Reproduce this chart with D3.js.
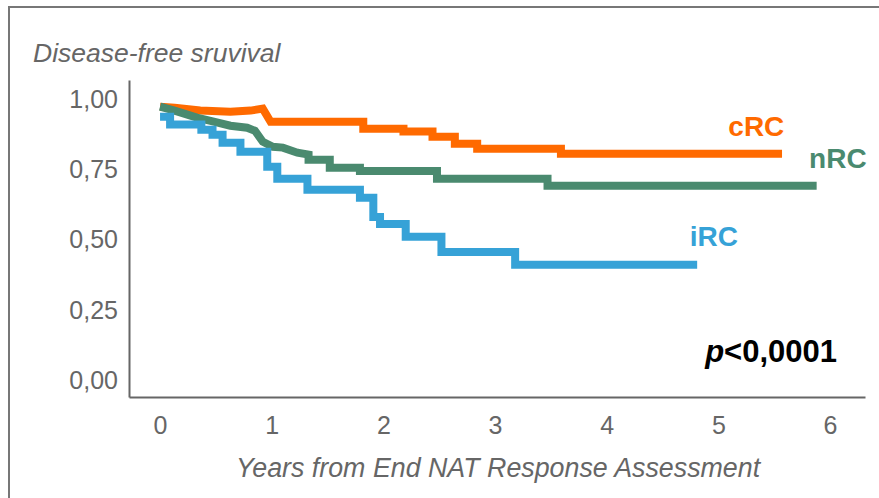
<!DOCTYPE html>
<html>
<head>
<meta charset="utf-8">
<script src="https://cdn.jsdelivr.net/npm/d3@7"></script>
<style>
  html, body { margin: 0; padding: 0; background: #fff; }
  svg { display: block; font-family: "Liberation Sans", Arial, Helvetica, sans-serif; }
</style>
</head>
<body>
<svg id="chart" width="879" height="498"></svg>
<script>
// Kaplan-Meier disease-free survival by NAT response group (years, survival fraction).
// Each series is the polyline of the curve: repeated times mark a drop.
const cRC_time = [0, 0.13, 0.36, 0.63, 0.81, 0.92, 0.99, 1.82, 1.82, 2.18, 2.18, 2.44, 2.44, 2.64, 2.64, 2.84, 2.84, 3.59, 3.59, 5.57];
const cRC_surv = [0.975, 0.971, 0.961, 0.957, 0.961, 0.968, 0.921, 0.921, 0.896, 0.896, 0.886, 0.886, 0.868, 0.868, 0.843, 0.843, 0.825, 0.825, 0.807, 0.807];

const nRC_time = [0, 0.13, 0.33, 0.49, 0.63, 0.78, 0.85, 0.92, 1.01, 1.10, 1.23, 1.33, 1.33, 1.52, 1.52, 1.79, 1.79, 2.48, 2.48, 3.47, 3.47, 5.88];
const nRC_surv = [0.975, 0.961, 0.936, 0.921, 0.907, 0.900, 0.889, 0.850, 0.832, 0.829, 0.811, 0.804, 0.786, 0.786, 0.757, 0.757, 0.746, 0.746, 0.718, 0.718, 0.693, 0.693];

const iRC_time = [0, 0.09, 0.09, 0.37, 0.37, 0.47, 0.47, 0.56, 0.56, 0.72, 0.72, 0.96, 0.96, 1.05, 1.05, 1.32, 1.32, 1.79, 1.79, 1.91, 1.91, 1.97, 1.97, 2.20, 2.20, 2.52, 2.52, 3.18, 3.18, 4.81];
const iRC_surv = [0.939, 0.939, 0.911, 0.911, 0.893, 0.893, 0.875, 0.875, 0.846, 0.846, 0.814, 0.814, 0.761, 0.761, 0.718, 0.718, 0.679, 0.679, 0.650, 0.650, 0.582, 0.582, 0.557, 0.557, 0.511, 0.511, 0.457, 0.457, 0.411, 0.411];

const groupNames = ["cRC", "nRC", "iRC"];
const groupColors = ["#FF6A00", "#4A8A6F", "#36A2D7"];
const xTicks = [0, 1, 2, 3, 4, 5, 6];
const yTicks = [0, 0.25, 0.5, 0.75, 1];
const yTitle = "Disease-free sruvival";
const xTitle = "Years from End NAT Response Assessment";
const pLabel = ["p", "<0,0001"];

const series = [
  { name: groupNames[0], color: groupColors[0], pts: cRC_time.map((t, i) => [t, cRC_surv[i]]) },
  { name: groupNames[1], color: groupColors[1], pts: nRC_time.map((t, i) => [t, nRC_surv[i]]) },
  { name: groupNames[2], color: groupColors[2], pts: iRC_time.map((t, i) => [t, iRC_surv[i]]) }
];

const svg = d3.select("#chart");
const gray = "#666";

// frame around the figure
svg.append("rect")
  .attr("x", 9).attr("y", 7)
  .attr("width", 900).attr("height", 520)
  .attr("fill", "none").attr("stroke", "#777").attr("stroke-width", 2);

const x = d3.scaleLinear().domain([-0.278, 6.313]).range([129, 865]);
const y = d3.scaleLinear().domain([-0.06, 1.07]).range([397, 80]);

const loc = d3.formatLocale({ decimal: ",", thousands: ".", grouping: [3], currency: ["", ""] });
const fmt2 = loc.format(".2f");

// axes
const gx = svg.append("g").attr("transform", `translate(0,${y.range()[0]})`)
  .call(d3.axisBottom(x).tickValues(xTicks).tickSize(0).tickSizeOuter(0).tickPadding(19).tickFormat(d3.format("d")));
const gy = svg.append("g").attr("transform", `translate(${x.range()[0]},0)`)
  .call(d3.axisLeft(y).tickValues(yTicks).tickSize(0).tickSizeOuter(0).tickPadding(11).tickFormat(fmt2));

[gx, gy].forEach(g => {
  g.attr("font-family", null).attr("font-size", null);
  g.select(".domain").attr("stroke", gray).attr("stroke-width", 2);
  g.selectAll(".tick text").attr("fill", gray).style("font-size", "25px");
});

// survival curves
const line = d3.line().x(d => x(d[0])).y(d => y(d[1])).curve(d3.curveLinear);
svg.append("g").selectAll("path").data(series).join("path")
  .attr("d", d => line(d.pts))
  .attr("fill", "none")
  .attr("stroke", d => d.color)
  .attr("stroke-width", 8)
  .attr("stroke-linejoin", "miter")
  .attr("stroke-linecap", "butt");

// group labels
const labelPos = { cRC: [5.34, 0.870], nRC: [6.07, 0.757], iRC: [4.96, 0.478] };
svg.append("g").selectAll("text").data(series).join("text")
  .attr("x", d => x(labelPos[d.name][0]))
  .attr("y", d => y(labelPos[d.name][1]))
  .attr("text-anchor", "middle")
  .attr("fill", d => d.color)
  .style("font-size", "28px").style("font-weight", "bold")
  .text(d => d.name);

// axis titles
svg.append("text").attr("x", 33).attr("y", 62)
  .attr("fill", gray).style("font-size", "26.5px").style("font-style", "italic")
  .text(yTitle);
svg.append("text").attr("x", 498).attr("y", 477).attr("text-anchor", "middle")
  .attr("fill", gray).style("font-size", "26.8px").style("font-style", "italic")
  .text(xTitle);

// log-rank p value
const pt = svg.append("text").attr("x", 837).attr("y", 362).attr("text-anchor", "end")
  .attr("fill", "#000").style("font-size", "31px").style("font-weight", "bold");
pt.append("tspan").style("font-style", "italic").text(pLabel[0]);
pt.append("tspan").text(pLabel[1]);
</script>
</body>
</html>
